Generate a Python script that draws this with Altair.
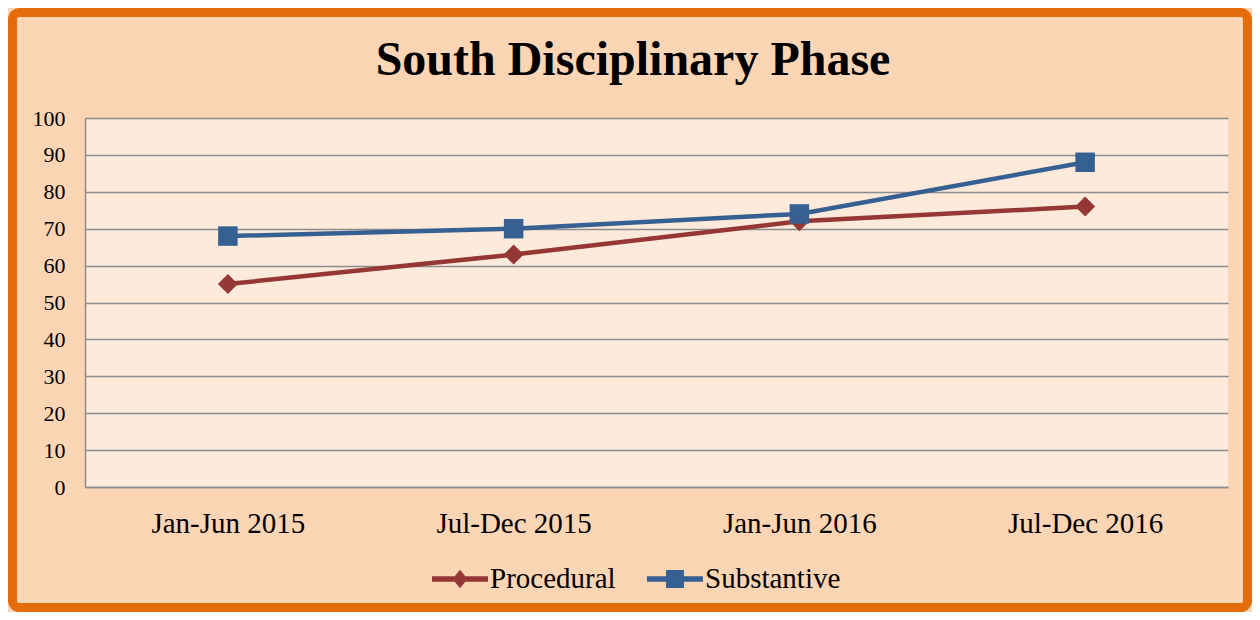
import altair as alt
import pandas as pd

periods = ["Jan-Jun 2015", "Jul-Dec 2015", "Jan-Jun 2016", "Jul-Dec 2016"]
procedural = [55, 63, 72, 76]
substantive = [68, 70, 74, 88]
series_names = ["Procedural", "Substantive"]
series_colors = ["#953735", "#376092"]
series_shapes = ["diamond", "square"]
series_sizes = [400, 380]
y_ticks = list(range(0, 101, 10))
title_text = "South Disciplinary Phase"

rows = []
for name, vals in zip(series_names, [procedural, substantive]):
    for p, v in zip(periods, vals):
        rows.append({"period": p, "series": name, "value": v})
df = pd.DataFrame(rows)

W, H = 1143, 369
PAD = {"left": 77, "top": 110, "right": 24, "bottom": 125}

SERIF = "Liberation Serif"
GRID = "#8C8C8C"

x_enc = alt.X(
    "period:N", sort=periods,
    scale=alt.Scale(type="point", padding=0.5),
    axis=alt.Axis(title=None, labelAngle=0, ticks=False, grid=False,
                  domainColor=GRID, domainWidth=1.5, labelPadding=22,
                  labelFontSize=29, labelFont=SERIF, labelColor="black"),
)
y_enc = alt.Y(
    "value:Q",
    scale=alt.Scale(domain=[0, 100], nice=False),
    axis=alt.Axis(title=None, values=y_ticks, ticks=False, grid=True,
                  gridColor=GRID, gridWidth=1.5, gridOpacity=1,
                  domainColor=GRID, domainWidth=1.5, labelPadding=20,
                  labelFontSize=22, labelFont=SERIF, labelColor="black"),
)

base = alt.Chart(df)
layers = []
for name, col, shp, sz in zip(series_names, series_colors, series_shapes, series_sizes):
    sub = base.transform_filter(alt.datum.series == name)
    layers.append(sub.mark_line(strokeWidth=4.5, color=col).encode(x=x_enc, y=y_enc))
    layers.append(sub.mark_point(filled=True, shape=shp, size=sz, opacity=1,
                                 strokeWidth=0, color=col).encode(x=x_enc, y=y_enc))

# legend-only layer (no visible data) with line+marker symbols
legend_paths = [
    "M-1,-0.1H1V0.1H-1Z M0,-0.33L0.27,0L0,0.33L-0.27,0Z",
    "M-1,-0.1H1V0.1H-1Z M-0.32,-0.32H0.32V0.32H-0.32Z",
]
leg = alt.Legend(orient="none", legendX=347, legendY=433, direction="horizontal",
                 title=None, labelFontSize=29, labelFont=SERIF, labelColor="black",
                 symbolSize=3136, symbolStrokeWidth=0, symbolOpacity=1,
                 labelOffset=2, columnPadding=31, padding=0, labelLimit=0)
legend_layer = base.transform_filter(alt.datum.value < 0).mark_point(
    filled=True, size=3136, opacity=1, strokeWidth=0
).encode(
    x=x_enc, y=y_enc,
    color=alt.Color("series:N", scale=alt.Scale(domain=series_names, range=series_colors), legend=leg),
    shape=alt.Shape("series:N", scale=alt.Scale(domain=series_names, range=legend_paths), legend=leg),
)

title_layer = alt.Chart(alt.Data(values=[{"t": title_text}])).mark_text(
    font=SERIF, fontSize=48, fontWeight="bold", color="black",
    align="center", baseline="alphabetic"
).encode(text="t:N", x=alt.value(548), y=alt.value(-43))

border = alt.Chart(alt.Data(values=[{"b": 1}])).mark_rect(
    filled=False, stroke="#E46C0A", strokeWidth=9, cornerRadius=7
).encode(
    x=alt.value(-PAD["left"] + 4.5), x2=alt.value(W + PAD["right"] - 4.5),
    y=alt.value(-PAD["top"] + 4.5), y2=alt.value(H + PAD["bottom"] - 4.5),
)

chart = alt.layer(*layers, legend_layer, title_layer, border).properties(
    width=W, height=H,
    autosize=alt.AutoSizeParams(type="none"),
    padding=PAD,
    background="#FCD5B5",
).configure_view(stroke=None, fill="#FDEADA")

chart.save("out.html", embed_options={"renderer": "svg", "actions": False})
